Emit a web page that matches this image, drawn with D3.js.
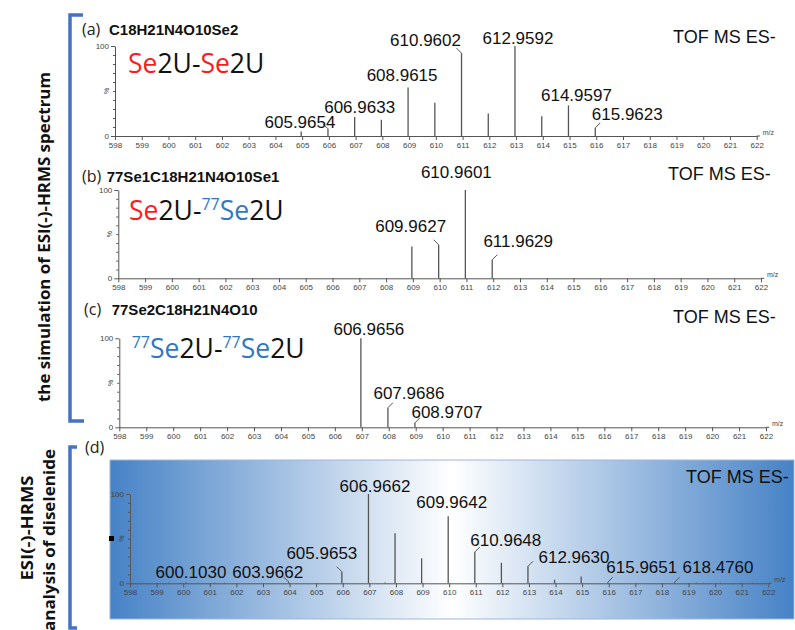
<!DOCTYPE html>
<html>
<head>
<meta charset="utf-8">
<script src="https://cdn.jsdelivr.net/npm/d3@7"></script>
<style>
  body { margin: 0; background: #fff; }
  svg { display: block; }
  .tick text { font-family: Arial, "Liberation Sans", sans-serif; fill: #444; }
  .tick line, .domain { stroke: #555; }
</style>
</head>
<body>
<svg id="chart" width="795" height="630"></svg>
<script>
// m/z axis ticks shared by all four spectra
const mzTicks = [598, 599, 600, 601, 602, 603, 604, 605, 606, 607, 608, 609, 610,
                 611, 612, 613, 614, 615, 616, 617, 618, 619, 620, 621, 622];
const yTicks = [0, 100];
const yMinor = [10, 20, 30, 40, 50, 60, 70, 80, 90];

// (a) simulated C18H21N4O10Se2
const mzA  = [604.9640, 605.9654, 606.9633, 607.9620, 608.9615, 609.9620, 610.9602, 611.9610, 612.9592, 613.9610, 614.9597, 615.9623];
const intA = [5, 8, 21, 18, 54, 37, 92, 25, 100, 22, 34, 9];
const labA = [605.9654, 606.9633, 608.9615, 610.9602, 612.9592, 614.9597, 615.9623];

// (b) simulated 77Se1C18H21N4O10Se1
const mzB  = [608.9620, 609.9627, 610.9601, 611.9629];
const intB = [36, 38, 100, 21];
const labB = [609.9627, 610.9601, 611.9629];

// (c) simulated 77Se2C18H21N4O10
const mzC  = [606.9656, 607.9686, 608.9707];
const intC = [100, 22, 5];
const labC = [606.9656, 607.9686, 608.9707];

// (d) measured ESI(-)-HRMS of the diselenide
const mzD  = [599.45, 599.90, 600.1030, 600.55, 601.20, 601.55, 603.9662, 605.9653, 606.9662, 607.59, 607.9650,
              608.9650, 609.9642, 610.9648, 611.9640, 612.9630, 613.9640, 614.9640, 615.9651, 618.4760,
              619.30, 619.55, 620.20, 620.95, 621.40];
const intD = [0.7, 0.6, 1.2, 0.6, 0.7, 0.6, 1.5, 13, 100, 0.8, 56,
              28, 75, 35, 23, 19, 4, 7.5, 1.2, 1.2,
              0.7, 0.6, 0.7, 0.6, 0.7];
const labD = [600.1030, 603.9662, 605.9653, 606.9662, 609.9642, 610.9648, 612.9630, 615.9651, 618.4760];

// ---- layout (pixel positions, kept apart from the data) ----
const layout = {
  a: { x0: 115,   x1: 756.7, yBase: 136,   yTop: 46,    tof: [673, 43],    tag: [82, 35],  formula: [109, 35],  big: [128, 72.7] },
  b: { x0: 118.3, x1: 761,   yBase: 278.3, yTop: 190,   tof: [668, 180],   tag: [82, 181.7], formula: [106.7, 181.7], big: [129, 220] },
  c: { x0: 119.3, x1: 766,   yBase: 427.3, yTop: 338.3, tof: [673, 323.3], tag: [84, 315], formula: [111.7, 315], big: [131.7, 358.3] },
  d: { x0: 130,   x1: 768.3, yBase: 583.3, yTop: 494,   tof: [686, 482.7], tag: [85, 453] }
};
// label offsets [dx, dy] from the peak apex (MassLynx style placement)
const labelPlace = {
  a: { "605.9654": [-28, -1], "606.9633": [5, -4.5], "608.9615": [-6, -6], "610.9602": [-36, -7],
       "612.9592": [3, -2], "614.9597": [8, -4], "615.9623": [32, -8] },
  b: { "609.9627": [-28, -13], "610.9601": [-9, -12], "611.9629": [26, -12.5] },
  c: { "606.9656": [8, -3.3], "607.9686": [21, -9], "608.9707": [32, -4.6] },
  d: { "600.1030": [5, -4], "603.9662": [-21, -4], "605.9653": [-20, -13], "606.9662": [6.5, -2.3],
       "609.9642": [3.5, -8], "610.9648": [31, -6.5], "612.9630": [46, -3.3], "615.9651": [34, -9],
       "618.4760": [43.5, -9] }
};

const svg = d3.select("#chart");
const fmt = d3.format(".4f");
const RED = "#ff1a1a", BLUE = "#2e78c4", BRACKET = "#4472c4";

// panel (d) gradient background
const defs = svg.append("defs");
const grad = defs.append("linearGradient").attr("id", "bgd").attr("x1", "0%").attr("x2", "100%");
grad.append("stop").attr("offset", "0%").attr("stop-color", "#4682c6");
grad.append("stop").attr("offset", "50%").attr("stop-color", "#ffffff");
grad.append("stop").attr("offset", "100%").attr("stop-color", "#4682c6");
svg.append("rect").attr("x", 110).attr("y", 460).attr("width", 684).attr("height", 159)
  .attr("fill", "url(#bgd)").attr("stroke", "#9fb6d6");
svg.append("rect").attr("x", 109).attr("y", 536).attr("width", 5).attr("height", 5).attr("fill", "#000");

function drawPanel(key, mz, inten, labels) {
  const L = layout[key];
  const x = d3.scaleLinear().domain([598, 622]).range([L.x0, L.x1]);
  const y = d3.scaleLinear().domain([0, 100]).range([L.yBase, L.yTop]);
  const g = svg.append("g");

  // x axis
  const xa = g.append("g").attr("transform", `translate(0,${L.yBase})`)
    .call(d3.axisBottom(x).tickValues(mzTicks).tickFormat(d3.format("d")).tickSize(4).tickSizeOuter(0).tickPadding(2));
  xa.selectAll("text").attr("font-size", 8);
  g.append("line").attr("x1", x(622)).attr("x2", x(622.12)).attr("y1", L.yBase).attr("y2", L.yBase).attr("stroke", "#555");
  g.append("text").attr("x", x(622) + 6).attr("y", L.yBase - 1)
    .attr("font-family", "Arial, sans-serif").attr("font-size", 7).attr("fill", "#444").text("m/z");

  // y axis
  const ya = g.append("g").attr("transform", `translate(${L.x0},0)`)
    .call(d3.axisLeft(y).tickValues(yTicks).tickSize(4).tickSizeOuter(0).tickPadding(2));
  ya.selectAll("text").attr("font-size", 8);
  g.append("g").attr("transform", `translate(${L.x0},0)`)
    .call(d3.axisLeft(y).tickValues(yMinor).tickSize(2).tickFormat(""))
    .call(s => s.select(".domain").remove());
  g.append("text").attr("transform", `translate(${L.x0 - 6},${y(50)}) rotate(-90)`)
    .attr("text-anchor", "middle").attr("font-family", "Arial, sans-serif")
    .attr("font-size", 7).attr("fill", "#444").text("%");

  // peaks
  g.selectAll(".pk").data(mz.map((m, i) => ({ m, v: inten[i] }))).join("line")
    .attr("x1", d => x(d.m)).attr("x2", d => x(d.m))
    .attr("y1", y(0)).attr("y2", d => y(d.v))
    .attr("stroke", "#555").attr("stroke-width", 1.3);

  // peak labels
  labels.forEach(m => {
    const v = inten[mz.indexOf(m)];
    const t = fmt(m);
    const [dx, dy] = labelPlace[key][t];
    const px = x(m), py = y(v);
    if (Math.abs(dx) >= 15) {
      const s = Math.sign(dx);
      g.append("path").attr("d", `M${px},${py}L${px + s * 5},${py - 5}`)
        .attr("fill", "none").attr("stroke", "#555").attr("stroke-width", 1);
    }
    g.append("text").attr("x", px + dx).attr("y", py + dy).attr("text-anchor", "middle")
      .attr("font-family", "Arial, 'Liberation Sans', sans-serif").attr("font-size", 17)
      .attr("fill", "#111").text(t);
  });

  g.append("text").attr("x", L.tof[0]).attr("y", L.tof[1])
    .attr("font-family", "Arial, 'Liberation Sans', sans-serif").attr("font-size", 18)
    .attr("fill", "#111").text("TOF MS ES-");
  g.append("text").attr("x", L.tag[0]).attr("y", L.tag[1])
    .attr("font-family", "'Open Sans', sans-serif").attr("font-size", 16)
    .attr("fill", "#222").text(`(${key})`);
  return g;
}

drawPanel("a", mzA, intA, labA);
drawPanel("b", mzB, intB, labB);
drawPanel("c", mzC, intC, labC);
drawPanel("d", mzD, intD, labD);

// formulas
const formulas = { a: "C18H21N4O10Se2", b: "77Se1C18H21N4O10Se1", c: "77Se2C18H21N4O10" };
Object.entries(formulas).forEach(([k, f]) => {
  svg.append("text").attr("x", layout[k].formula[0]).attr("y", layout[k].formula[1])
    .attr("font-family", "Arial, 'Liberation Sans', sans-serif").attr("font-weight", "bold")
    .attr("font-size", 15).attr("fill", "#111").text(f);
});

// big compound names, as pieces [text, colour, superscript?]
const compounds = {
  a: [["Se", RED], ["2U-", "#111"], ["Se", RED], ["2U", "#111"]],
  b: [["Se", RED], ["2U-", "#111"], ["77", BLUE, true], ["Se", BLUE], ["2U", "#111"]],
  c: [["77", BLUE, true], ["Se", BLUE], ["2U-", "#111"], ["77", BLUE, true], ["Se", BLUE], ["2U", "#111"]]
};
Object.entries(compounds).forEach(([k, parts]) => {
  const [bx, by] = layout[k].big;
  const t = svg.append("text").attr("x", bx).attr("y", by)
    .attr("font-family", "'Open Sans', sans-serif").attr("font-size", 26.5);
  let up = false;
  parts.forEach(([s, c, sup]) => {
    const ts = t.append("tspan").attr("fill", c).text(s);
    if (sup) { ts.attr("font-size", 16).attr("dy", -10); up = true; }
    else if (up) { ts.attr("dy", 10); up = false; }
  });
});

// brackets
svg.append("path").attr("d", "M83,15L70,15L70,421L84,421")
  .attr("fill", "none").attr("stroke", BRACKET).attr("stroke-width", 3.5);
svg.append("path").attr("d", "M77,447L70,447L70,628L77,628")
  .attr("fill", "none").attr("stroke", BRACKET).attr("stroke-width", 3.5);

// side captions
function vtext(cx, cy, s, len) {
  svg.append("text").attr("transform", `translate(${cx},${cy}) rotate(-90)`)
    .attr("text-anchor", "middle").attr("dominant-baseline", "middle")
    .attr("font-family", "'Open Sans', sans-serif").attr("font-weight", "bold")
    .attr("font-size", 15.5).attr("fill", "#111")
    .attr("textLength", len).attr("lengthAdjust", "spacingAndGlyphs").text(s);
}
vtext(46, 237, "the simulation of ESI(-)-HRMS spectrum", 330);
vtext(29, 528, "ESI(-)-HRMS", 105);
vtext(51, 540, "analysis of diselenide", 182);
</script>
</body>
</html>
